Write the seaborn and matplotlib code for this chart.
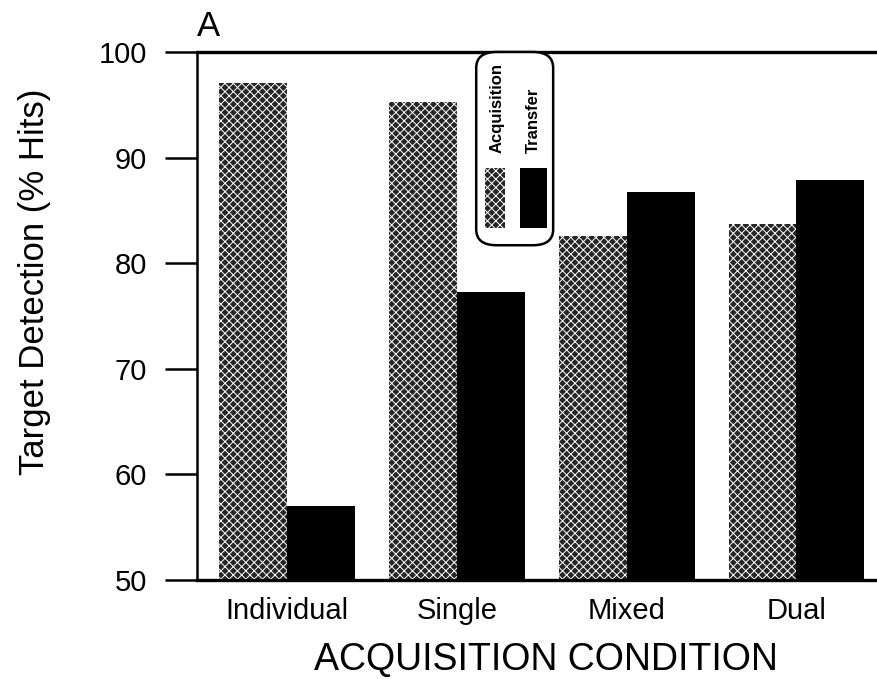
import pandas as pd
import matplotlib.pyplot as plt
import seaborn as sns
from matplotlib.patches import FancyBboxPatch, Rectangle

### Data ###
conditions = ["Individual", "Single", "Mixed", "Dual"]
acquisition = [97.1, 95.3, 82.6, 83.7]
transfer = [57.0, 77.3, 86.7, 87.9]
y_ticks = [50, 60, 70, 80, 90, 100]

df = pd.DataFrame(
    {
        "condition": conditions * 2,
        "phase": ["Acquisition"] * 4 + ["Transfer"] * 4,
        "hits": acquisition + transfer,
    }
)

sns.set_style("white")
plt.rcParams["font.family"] = ["Liberation Sans", "DejaVu Sans"]
plt.rcParams["hatch.linewidth"] = 0.7
plt.rcParams["text.color"] = "black"
plt.rcParams["axes.labelcolor"] = "black"
plt.rcParams["xtick.color"] = "black"
plt.rcParams["ytick.color"] = "black"

ACQ_FACE = "#262626"
TRANS_FACE = "#000000"


def style_acquisition(patch):
    # dark fill with white speckle texture, like the printed screen
    patch.set_facecolor(ACQ_FACE)
    patch.set_edgecolor("white")
    patch.set_linewidth(0)
    patch.set_hatch("xxxx")


fig = plt.figure(figsize=(8.78, 6.79), dpi=100)
ax = fig.add_axes([197 / 878, 1 - 580 / 679, 681 / 878, 528 / 679])

sns.barplot(
    data=df,
    x="condition",
    y="hits",
    hue="phase",
    palette={"Acquisition": ACQ_FACE, "Transfer": TRANS_FACE},
    width=0.8,
    legend=False,
    ax=ax,
)

for patch in ax.containers[0]:
    style_acquisition(patch)
for patch in ax.containers[1]:
    patch.set_linewidth(0)

ax.set_ylim(50, 100)
ax.set_xlim(-0.53, 3.48)
ax.set_yticks(y_ticks)
ax.tick_params(axis="y", length=23, width=1.8, pad=13, labelsize=21, left=True)
ax.tick_params(axis="x", length=0, pad=12, labelsize=21)

for side in ["top", "bottom"]:
    ax.spines[side].set_linewidth(2.4)
ax.spines["left"].set_linewidth(1.8)
ax.spines["right"].set_visible(False)
for s in ax.spines.values():
    s.set_color("black")

ax.set_ylabel("Target Detection (% Hits)", fontsize=25)
ax.yaxis.set_label_coords(-0.215, 0.565)
ax.set_xlabel("ACQUISITION CONDITION", fontsize=27)
ax.xaxis.set_label_coords(0.512, -0.117)

# hand-drawn style legend box, rotated text
box = FancyBboxPatch(
    (0.410, 0.634),
    0.113,
    0.366,
    boxstyle="round,pad=0,rounding_size=0.03",
    transform=ax.transAxes,
    facecolor="white",
    edgecolor="black",
    linewidth=1.8,
    clip_on=False,
    zorder=5,
)
ax.add_patch(box)
acq_key = Rectangle((0.423, 0.667), 0.030, 0.113, transform=ax.transAxes, zorder=6)
style_acquisition(acq_key)
ax.add_patch(acq_key)
ax.add_patch(
    Rectangle((0.474, 0.667), 0.040, 0.113, transform=ax.transAxes,
              facecolor=TRANS_FACE, linewidth=0, zorder=6)
)
ax.text(0.440, 0.808, "Acquisition", rotation=90, ha="center", va="bottom",
        fontsize=12, fontweight="bold", transform=ax.transAxes, zorder=7)
ax.text(0.494, 0.808, "Transfer", rotation=90, ha="center", va="bottom",
        fontsize=12, fontweight="bold", transform=ax.transAxes, zorder=7)

fig.text(197 / 878, 1 - 36 / 679, "A", fontsize=25, ha="left", va="baseline")

fig.savefig("out.png", dpi=100)
